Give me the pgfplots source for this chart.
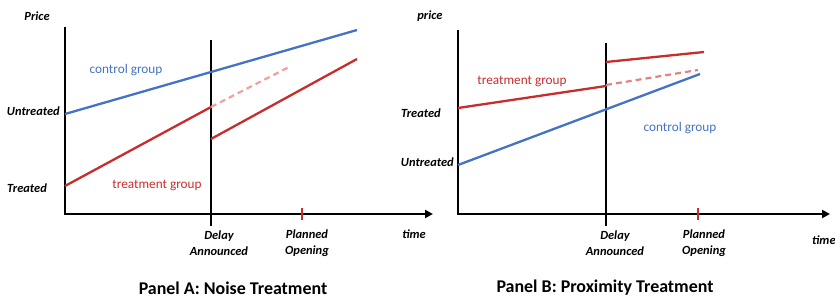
\documentclass[border=0pt]{standalone}
\usepackage{pgfplots}
\pgfplotsset{compat=1.18}
\usepackage{fontspec}
\setmainfont{Carlito}
\usetikzlibrary{arrows.meta}
\definecolor{cblue}{RGB}{68,114,196}
\definecolor{cred}{RGB}{200,45,45}
\definecolor{cpink}{RGB}{240,160,160}
\definecolor{cpinkB}{RGB}{228,130,130}
\tikzset{
  lbl/.style={font=\fontsize{12.5}{16}\selectfont\bfseries\itshape, align=center, inner sep=0pt},
  grp/.style={font=\fontsize{13.3}{15}\selectfont, inner sep=0pt},
  ttl/.style={font=\fontsize{18}{20}\selectfont\bfseries, inner sep=0pt},
}
\pgfplotsset{
  panel/.style={
    scale only axis, width=417.5bp, height=302bp,
    ymin=0, ymax=302, y dir=reverse,
    hide axis, clip=false,
  },
}
\begin{document}
\begin{tikzpicture}
\path[use as bounding box] (0,0) rectangle (835bp,302bp);
% ---------------- Panel A ----------------
\begin{axis}[panel, xmin=0, xmax=417.5, at={(0,0)}]
  % axes
  \addplot[black, line width=2.5bp] coordinates {(65,27) (65,214)};
  \addplot[black, line width=2.5bp, -{Triangle[length=8bp,width=8bp]}] coordinates {(64,214) (433,214)};
  % delay line
  \addplot[black, line width=2.2bp] coordinates {(211,40) (211,226)};
  % planned opening tick
  \addplot[cred, line width=2.2bp] coordinates {(302,208) (302,220)};
  % control group
  \addplot[cblue, line width=2.3bp] coordinates {(65,114) (357,30)};
  % treatment group
  \addplot[cred, line width=2.3bp] coordinates {(65,186) (211,107)};
  \addplot[cpink, line width=2.2bp, dash pattern=on 6bp off 4bp] coordinates {(211,107) (289,67)};
  \addplot[cred, line width=2.3bp] coordinates {(211,139) (357,59)};
  % labels
  \node[lbl] at (axis cs:37,16) {Price};
  \node[lbl, anchor=east] at (axis cs:60,111) {Untreated};
  \node[lbl] at (axis cs:27,188) {Treated};
  \node[grp, text=cblue] at (axis cs:126,70) {control group};
  \node[grp, text=cred] at (axis cs:157,185) {treatment group};
  \node[lbl] at (axis cs:219,243.5) {Delay\\Announced};
  \node[lbl] at (axis cs:307,243.5) {Planned\\Opening};
  \node[lbl] at (axis cs:414,234) {time};
  \node[ttl] at (axis cs:233,288) {Panel A: Noise Treatment};
\end{axis}
% ---------------- Panel B ----------------
\begin{axis}[panel, xmin=417.5, xmax=835, at={(417.5bp,0)}]
  \addplot[black, line width=2.5bp] coordinates {(458,30) (458,214)};
  \addplot[black, line width=2.5bp, -{Triangle[length=8bp,width=8bp]}] coordinates {(457,214) (830,214)};
  \addplot[black, line width=2.2bp] coordinates {(606,43) (606,226)};
  \addplot[cred, line width=2.2bp] coordinates {(698,208) (698,220)};
  % treatment group
  \addplot[cred, line width=2.3bp] coordinates {(458,108) (606,86)};
  \addplot[cpinkB, line width=2.2bp, dash pattern=on 6bp off 4bp] coordinates {(606,85) (698,70)};
  \addplot[cred, line width=2.3bp] coordinates {(606,62) (704,52)};
  % control group
  \addplot[cblue, line width=2.3bp] coordinates {(458,165) (700,74)};
  % labels
  \node[lbl] at (axis cs:430,16) {price};
  \node[lbl, anchor=east] at (axis cs:441,113) {Treated};
  \node[lbl, anchor=east] at (axis cs:454,162) {Untreated};
  \node[grp, text=cred] at (axis cs:522,81) {treatment group};
  \node[grp, text=cblue] at (axis cs:680,128) {control group};
  \node[lbl] at (axis cs:615,243.5) {Delay\\Announced};
  \node[lbl] at (axis cs:704,243.5) {Planned\\Opening};
  \node[lbl, anchor=west] at (axis cs:812,240) {time};
  \node[ttl] at (axis cs:605,288) {Panel B: Proximity Treatment};
\end{axis}
\end{tikzpicture}
\end{document}
